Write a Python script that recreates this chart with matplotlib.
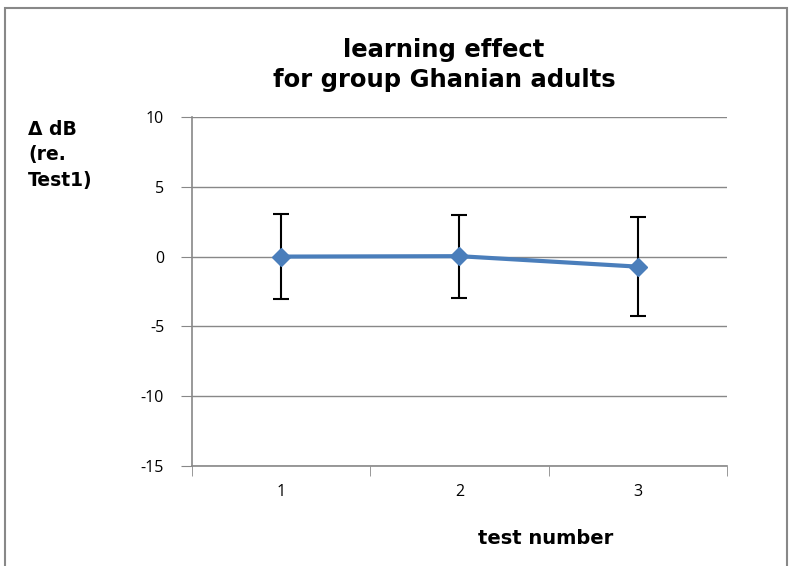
import matplotlib
matplotlib.use('Agg')
import matplotlib.pyplot as plt
from matplotlib.patches import Rectangle

tests = [1, 2, 3]
delta_db = [0.0, 0.03, -0.72]
err = [3.07, 2.98, 3.55]
yticks = [-15, -10, -5, 0, 5, 10]

plt.rcParams['font.family'] = ['Open Sans', 'DejaVu Sans']
plt.rcParams['axes.unicode_minus'] = False
bold_font = ['DejaVu Sans']

fig = plt.figure(figsize=(7.89, 5.66), dpi=100)
ax = fig.add_axes([192 / 789, 1 - 466 / 566, 535 / 789, 349 / 566])

# outer frame of the chart area
fig.patches.append(Rectangle((5 / 789, -0.05), 782 / 789, 1.05 - 8 / 566,
                             transform=fig.transFigure, fill=False,
                             edgecolor='#888888', linewidth=1.5))

ax.errorbar(tests, delta_db, yerr=err, fmt='none', ecolor='black',
            elinewidth=1.5, capsize=5.5, capthick=1.5, zorder=2)
ax.plot(tests, delta_db, color='#4a7ebb', linewidth=3, marker='D',
        markersize=9, zorder=3)

ax.set_xlim(0.5, 3.5)
ax.set_ylim(-15, 10)
ax.set_yticks(yticks)
ax.set_xticks(tests)
ax.set_xticks([0.5, 1.5, 2.5, 3.5], minor=True)
ax.tick_params(axis='x', which='major', length=0, pad=13, labelsize=11.5)
ax.tick_params(axis='x', which='minor', length=7, color='#888888')
ax.tick_params(axis='y', length=8, color='#888888', labelsize=11.5, pad=12)
ax.grid(axis='y', color='#888888', linewidth=1)
ax.set_axisbelow(True)
for s in ['top', 'right']:
    ax.spines[s].set_visible(False)
for s in ['left', 'bottom']:
    ax.spines[s].set_color('#888888')
    ax.spines[s].set_linewidth(1.2)

fig.text(444 / 789, 1 - 65 / 566, 'learning effect\nfor group Ghanian adults',
         ha='center', va='center', fontsize=17.5, fontweight='bold',
         linespacing=1.3, family=bold_font)
fig.text(28 / 789, 1 - 155 / 566, 'Δ dB\n(re.\nTest1)', ha='left',
         va='center', fontsize=13.5, fontweight='bold', linespacing=1.45,
         family=bold_font)
fig.text(546 / 789, 1 - 538 / 566, 'test number', ha='center',
         va='center', fontsize=14, fontweight='bold', family=bold_font)

fig.savefig('out.png', dpi=100)
